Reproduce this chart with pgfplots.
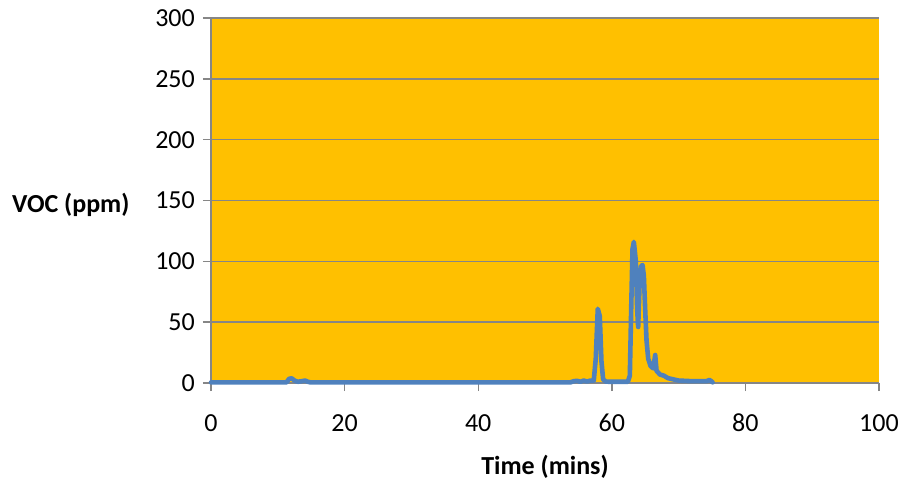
\documentclass[border=0pt]{standalone}
\usepackage{pgfplots}
\pgfplotsset{compat=1.18}
\usepackage{fontspec}
\setmainfont{Carlito}
\definecolor{bgor}{HTML}{FFC000}
\definecolor{serblue}{HTML}{4F81BD}
\definecolor{gridg}{HTML}{868686}
\begin{document}
\begin{tikzpicture}
\begin{axis}[
  name=ax,
  scale only axis,
  width=668bp, height=365bp,
  xmin=0, xmax=100, ymin=0, ymax=300,
  xtick={0,20,40,60,80,100},
  ytick={0,50,100,150,200,250,300},
  axis lines=left,
  axis line style={-, draw=gridg, line width=1.4bp},
  axis background/.style={fill=bgor},
  ymajorgrids,
  major grid style={draw=gridg, line width=1.4bp},
  tick align=outside,
  major tick length=8bp,
  tick style={draw=gridg, line width=1.4bp},
  font=\fontsize{26bp}{30bp}\selectfont,
  /pgf/number format/assume math mode=true,
  xticklabel style={anchor=center, inner sep=0pt, yshift=-32bp},
  yticklabel style={anchor=east, inner sep=0pt, xshift=-8bp},
  every axis x label/.style={at={(axis description cs:0.5,0)}, anchor=center, yshift=-84bp, font=\fontsize{26bp}{30bp}\selectfont\bfseries},
  every axis y label/.style={at={(axis description cs:0,0.5)}, anchor=east, xshift=-78bp, yshift=-4bp, font=\fontsize{26bp}{30bp}\selectfont\bfseries},
  xlabel={Time (mins)},
  ylabel={VOC (ppm)},
  clip=false,
]
\addplot[serblue, line width=4.6bp, line join=round, line cap=round, mark=none] coordinates {
(0,0.5) (11.3,0.5) (11.7,3.5) (12.1,3.8) (12.5,2) (13,1) (13.6,1.5) (14.1,2) (14.5,1) (14.9,0.5)
(53.8,0.5) (54.3,1.5) (54.8,1.8) (55.3,1) (55.8,2) (56.3,1.2) (56.8,2) (57.3,2)
(57.6,20) (57.9,61) (58.2,55) (58.45,18) (58.7,3) (59.1,1.2) (59.6,1)
(62.4,1) (62.7,6) (62.9,60) (63.1,110) (63.3,116) (63.6,100) (63.8,60) (63.95,46)
(64.15,80) (64.4,96) (64.6,97) (64.8,88) (65.0,60) (65.2,35) (65.45,20)
(65.8,14) (66.2,12) (66.5,23) (66.7,10) (67.2,7) (67.8,6) (68.4,4) (69.2,3)
(70,2) (72,1.5) (74.2,1.5) (74.6,2.5) (74.9,1.5) (75.1,0.5)
};
\end{axis}
\pgfresetboundingbox
\path (ax.south west) ++(-211bp,-98bp) coordinate (bl);
\path (ax.south west) ++(699bp,383bp) coordinate (tr);
\path (bl) rectangle (tr);
\end{tikzpicture}
\end{document}
